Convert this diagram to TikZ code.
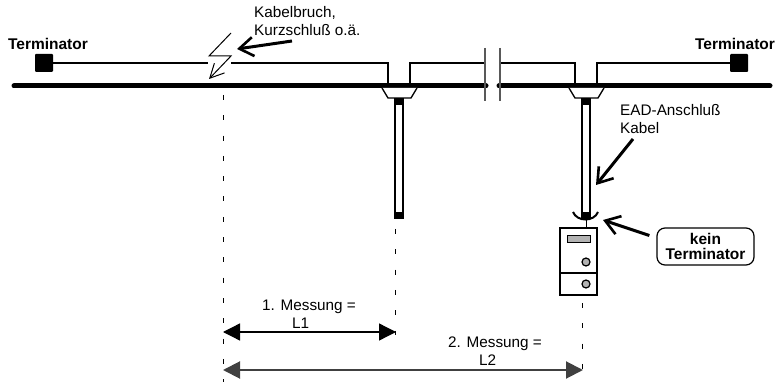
\documentclass[tikz,border=0pt]{standalone}
\usepackage{fontspec}
\setmainfont{Liberation Sans}
\usetikzlibrary{arrows.meta, calc, positioning}
\tikzset{
    textnode/.style = {draw=none, fill=none, rectangle, inner sep=0pt, font=\fontsize{15.3}{18}\selectfont, align=left},
    boldnode/.style = {textnode, font=\fontsize{15.5}{15}\selectfont\bfseries, align=center},
    termnode/.style = {draw=none, fill=black, rectangle, rounded corners=1pt, minimum size=18pt, inner sep=0pt},
    bus/.style = {line width=5pt, line cap=round},
    stub/.style = {line width=2.5pt},
    breakmark/.style = {line width=1.6pt, black!65},
    tapnode/.style = {draw, line width=1.3pt, fill=white},
    capnode/.style = {fill=black, inner sep=0pt, minimum width=10pt, minimum height=7pt},
    measure/.style = {{Triangle[length=17pt,width=17pt]}-{Triangle[length=17pt,width=17pt]}},
    pointer/.style = {line width=3pt, -{Straight Barb[length=14pt,width=19pt,line width=2.6pt]}},
    dashline/.style = {line width=1pt, dash pattern=on 5pt off 15.3pt},
    knob/.style = {draw, line width=1.2pt, fill=black!30, circle, minimum size=8pt, inner sep=0pt},
}

\begin{document}
\begin{tikzpicture}[x=1pt, y=-1pt]
\useasboundingbox (0,0) rectangle (782,382);

% terminators and the bus
\node[boldnode, name=termtextL] at (48,44) {Terminator};
\node[boldnode, name=termtextR] at (735,44) {Terminator};
\node[termnode, name=termL] at (44,63) {};
\node[termnode, name=termR] at (739,63) {};
\coordinate (busA) at (14,86);
\coordinate (busB) at (486,86);
\coordinate (busC) at (499,86);
\coordinate (busD) at (770,86);
\draw[bus] (busA) -- (busB);
\draw[bus] (busC) -- (busD);

% upper cable with the break
\coordinate (gapL) at (208,63);
\coordinate (gapR) at (231,63);
\coordinate (endL) at (486,63);
\coordinate (endR) at (500,63);
\draw[stub] (termL) -- (gapL);
\draw[stub] (gapR) -| (388,86);
\draw[stub] (410,86) |- (endL);
\draw[stub] (endR) -| (575,86);
\draw[stub] (597,86) |- (termR);
\draw[breakmark] (485,48) -- (485,101);
\draw[breakmark] (500,48) -- (500,101);

% lightning
\coordinate (flashA) at (231,33);
\coordinate (flashB) at (209,56);
\coordinate (flashC) at (231,56);
\coordinate (flashD) at (209,79);
\draw[line width=1pt, -{Straight Barb[length=14pt,width=14pt,line width=1pt]}] (flashA) -- (flashB) -- (flashC) -- (flashD);

% taps
\foreach \name/\x in {left/399, right/586} {
  \draw[tapnode] (\x-17,88) -- (\x-11,98) -- (\x+12,98) -- (\x+18,88);
  \node[capnode, name=cap\name] at (\x,102) {};
  \draw[line width=1.4pt] (\x-4,105) -- (\x-4,214) (\x+4,105) -- (\x+4,214);
  \node[capnode, name=plug\name, minimum width=9.5pt] at (\x,216) {};
}

% device
\node[draw, line width=1.2pt, fill=white, rectangle, name=device, minimum width=37pt, minimum height=67pt, inner sep=0pt] at (578.5,261.5) {};
\draw[line width=1.2pt] (device.west |- 0,273) -- (device.east |- 0,273);
\draw[line width=1pt] (plugright) -- (device.north -| plugright);
\node[draw, line width=1pt, fill=black!30, rectangle, name=display, minimum width=23pt, minimum height=7pt, inner sep=0pt] at (578.5,239.5) {};
\node[knob, name=knobA] at (586,262) {};
\node[knob, name=knobB] at (586,284) {};
\draw[line width=2pt] (573,212) .. controls (577,222) and (594,222) .. (598,212);

% labels with pointers
\node[textnode, name=breaktext, anchor=west] at (254,21) {Kabelbruch,\\Kurzschluß o.ä.};
\coordinate (breakfrom) at (292,41);
\coordinate (breakto) at (237,49);
\draw[pointer] (breakfrom) -- (breakto);
\node[textnode, name=cabletext, anchor=west] at (620,119) {EAD-Anschluß\\Kabel};
\coordinate (cablefrom) at (633,139);
\coordinate (cableto) at (596,185);
\draw[pointer] (cablefrom) -- (cableto);
\node[boldnode, draw=black, line width=1.2pt, rounded corners=8pt, name=keinbox, minimum width=97pt, minimum height=37pt] at (705.5,246.5) {kein\\Terminator};
\coordinate (keinto) at (603,220);
\draw[pointer] (keinbox.west) ++(-7,-11) -- (keinto);

% dashed lines and measures
\draw[dashline] (223,95) -- (223,382);
\draw[dashline] (395,229) -- (395,335);
\draw[dashline] (582,303) -- (582,372);
\coordinate (startA) at (223,332);
\coordinate (endA) at (396,332);
\coordinate (startB) at (223,370);
\coordinate (endB) at (583,370);
\draw[measure, line width=1.3pt] (startA) -- (endA);
\draw[measure, line width=2pt, black!75] (startB) -- (endB);
\node[textnode, name=measA, anchor=west] at (262,314) {1. Messung =\\\hspace*{30pt}L1};
\node[textnode, name=measB, anchor=west] at (448,351) {2. Messung =\\\hspace*{31pt}L2};
\end{tikzpicture}
\end{document}
